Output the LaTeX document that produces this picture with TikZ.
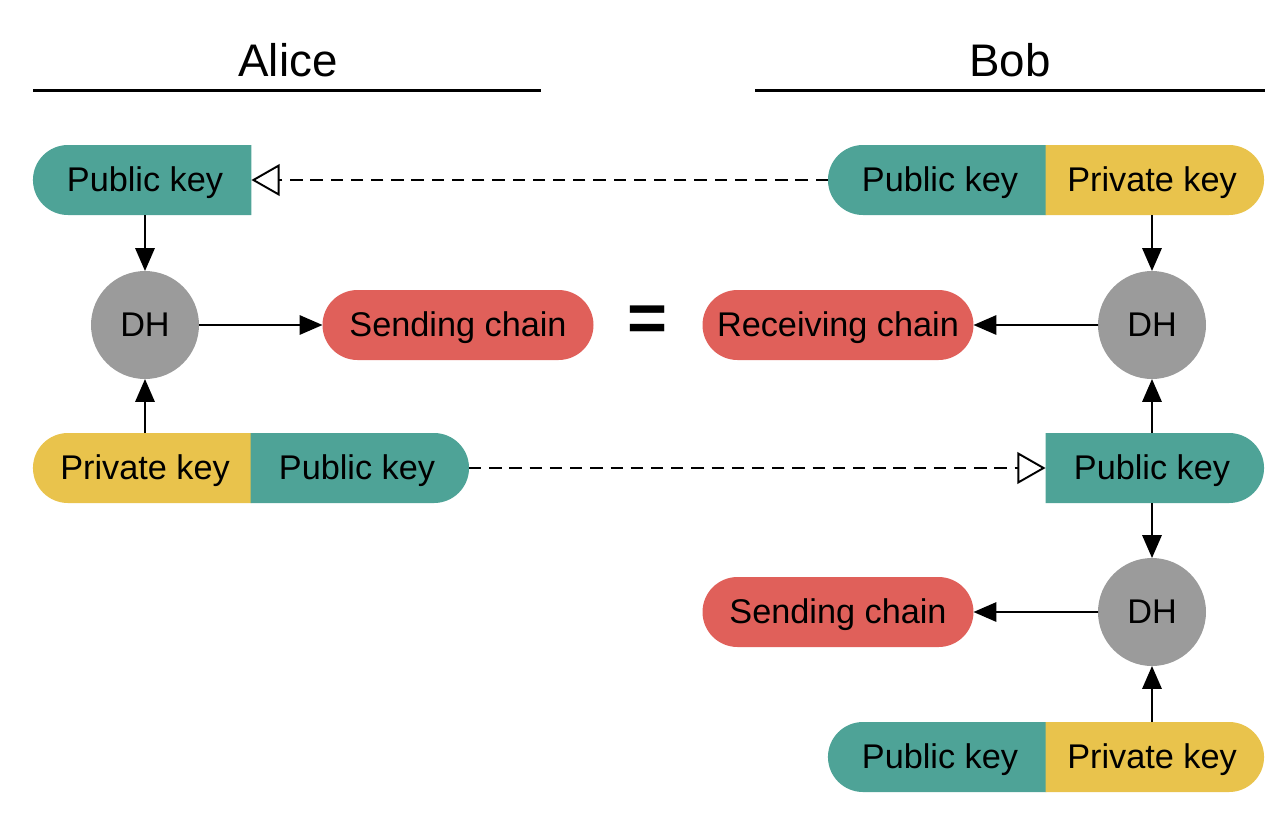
\documentclass[tikz,border=0pt]{standalone}
\usepackage{fontspec}
\setmainfont{Liberation Sans}
\usetikzlibrary{positioning, shapes.misc, arrows.meta}

\definecolor{keyteal}{RGB}{78,163,151}
\definecolor{keyyellow}{RGB}{233,195,76}
\definecolor{chainred}{RGB}{224,96,90}
\definecolor{dhgray}{RGB}{155,155,155}

\tikzset{
    label font/.style={font=\fontsize{19.5}{23}\selectfont, text height=17.5pt, text depth=4.1pt},
    half/.style={rounded rectangle, minimum width=4.37cm, minimum height=1.4cm,
        inner sep=0pt, outer sep=0pt, label font},
    pubkey/.style={half, fill=keyteal},
    privkey/.style={half, fill=keyyellow},
    chain/.style={rounded rectangle, fill=chainred, minimum width=5.42cm,
        minimum height=1.4cm, inner sep=0pt, outer sep=0pt, label font},
    dh/.style={circle, fill=dhgray, minimum size=2.16cm, inner sep=0pt, outer sep=0pt,
        label font},
    flow/.style={-{Triangle[length=13pt, width=11pt]}, line width=1.1pt},
    send/.style={-{Triangle[open, length=16pt, width=18pt]}, line width=1.1pt,
        dash pattern=on 7pt off 4.5pt},
    title/.style={font=\fontsize{26}{30}\selectfont}
}

\begin{document}
\begin{tikzpicture}
    \useasboundingbox (0,0) rectangle (25.68,-16.76);

    % Titles
    \node[title] (alice) at (5.76,-1.2) {Alice};
    \node[title] (bob) at (20.2,-1.2) {Bob};
    \draw[line width=1.7pt] (0.66,-1.8) -- (10.82,-1.8);
    \draw[line width=1.7pt] (15.1,-1.8) -- (25.3,-1.8);

    % Alice keys
    \node[pubkey, rounded rectangle right arc=none] (APub1) at (2.90,-3.6) {Public key};
    \node[privkey, rounded rectangle right arc=none] (APriv) at (2.90,-9.36) {Private key};
    \node[pubkey, rounded rectangle left arc=none] (APub2) at (7.14,-9.36) {Public key};

    % Bob keys
    \node[pubkey, rounded rectangle right arc=none] (BPub1) at (18.80,-3.6) {Public key};
    \node[privkey, rounded rectangle left arc=none] (BPriv1) at (23.04,-3.6) {Private key};
    \node[pubkey, rounded rectangle left arc=none] (BPub2) at (23.04,-9.36) {Public key};
    \node[pubkey, rounded rectangle right arc=none] (BPub3) at (18.80,-15.14) {Public key};
    \node[privkey, rounded rectangle left arc=none] (BPriv3) at (23.04,-15.14) {Private key};

    % DH steps
    \node[dh] (ADH) at (2.90,-6.5) {DH};
    \node[dh] (BDH1) at (23.04,-6.5) {DH};
    \node[dh] (BDH2) at (23.04,-12.24) {DH};

    % Chains
    \node[chain] (ASend) at (9.16,-6.5) {Sending chain};
    \node[chain] (BRecv) at (16.76,-6.5) {Receiving chain};
    \node[chain] (BSend) at (16.76,-12.24) {Sending chain};
    \node[font=\fontsize{39}{44}\bfseries] (eq) at (12.96,-6.48) {=};

    % Connect keys to DH
    \draw[flow] (APub1.south) -- (ADH.north);
    \draw[flow] (APriv.north) -- (ADH.south);
    \draw[flow] (BPriv1.south) -- (BDH1.north);
    \draw[flow] (BPub2.north) -- (BDH1.south);
    \draw[flow] (BPub2.south) -- (BDH2.north);
    \draw[flow] (BPriv3.north) -- (BDH2.south);

    % Connect DH to chains
    \draw[flow] (ADH) -- (ASend);
    \draw[flow] (BDH1) -- (BRecv);
    \draw[flow] (BDH2) -- (BSend);

    % Public keys sent across
    \draw[send] (BPub1.west) -- (APub1.east);
    \draw[send] (APub2.east) -- (BPub2.west);
\end{tikzpicture}
\end{document}
